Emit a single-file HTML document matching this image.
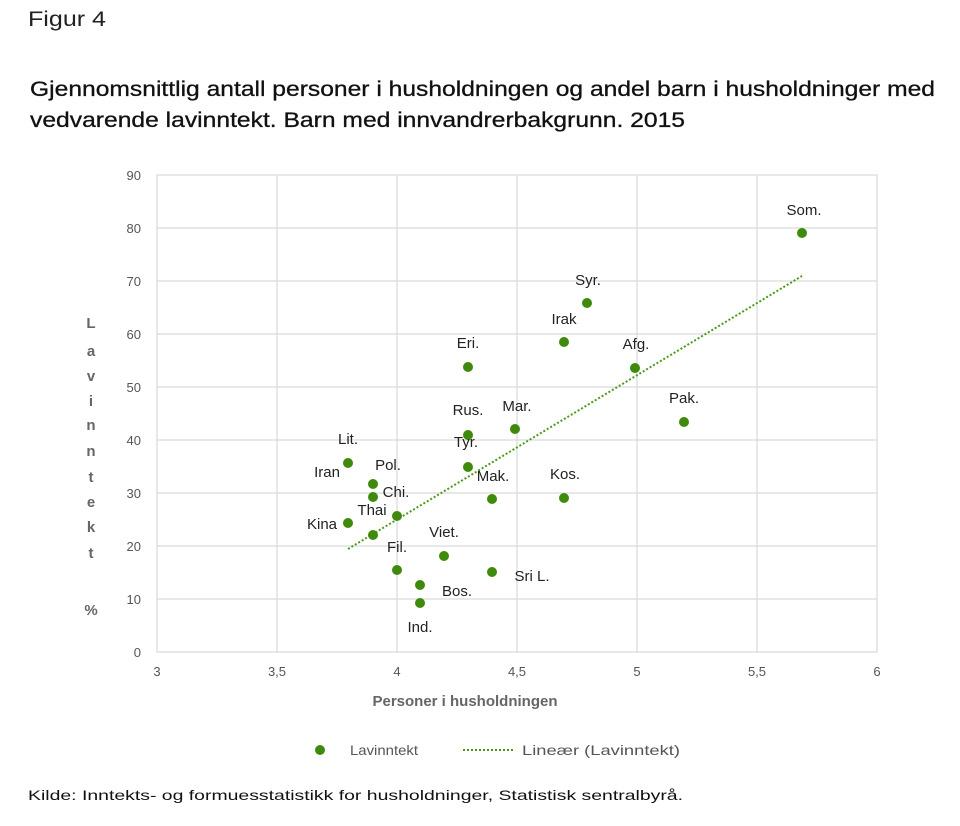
<!DOCTYPE html>
<html><head><meta charset="utf-8"><style>
html,body{margin:0;padding:0;background:#fff;}
svg{display:block;font-family:"Liberation Sans",sans-serif;}
</style></head><body>
<svg width="960" height="826" viewBox="0 0 960 826">
<text x="28" y="26" font-size="21" fill="#222" textLength="78" lengthAdjust="spacingAndGlyphs">Figur 4</text>
<text x="30" y="96" font-size="21" fill="#111" stroke="#111" stroke-width="0.3" textLength="905" lengthAdjust="spacingAndGlyphs">Gjennomsnittlig antall personer i husholdningen og andel barn i husholdninger med</text>
<text x="30" y="127" font-size="21" fill="#111" stroke="#111" stroke-width="0.3" textLength="655" lengthAdjust="spacingAndGlyphs">vedvarende lavinntekt. Barn med innvandrerbakgrunn. 2015</text>
<g stroke="#d9d9d9" stroke-width="1.2" fill="none">
<rect x="157" y="175" width="720" height="477"/>
<line x1="277" y1="175" x2="277" y2="652"/><line x1="397" y1="175" x2="397" y2="652"/><line x1="517" y1="175" x2="517" y2="652"/><line x1="637" y1="175" x2="637" y2="652"/><line x1="757" y1="175" x2="757" y2="652"/>
<line x1="157" y1="228" x2="877" y2="228"/><line x1="157" y1="281" x2="877" y2="281"/><line x1="157" y1="334" x2="877" y2="334"/><line x1="157" y1="387" x2="877" y2="387"/><line x1="157" y1="440" x2="877" y2="440"/><line x1="157" y1="493" x2="877" y2="493"/><line x1="157" y1="546" x2="877" y2="546"/><line x1="157" y1="599" x2="877" y2="599"/>
</g>
<g font-size="13" fill="#555" text-anchor="end">
<text x="141" y="180">90</text><text x="141" y="233">80</text><text x="141" y="286">70</text><text x="141" y="339">60</text><text x="141" y="392">50</text><text x="141" y="445">40</text><text x="141" y="498">30</text><text x="141" y="551">20</text><text x="141" y="604">10</text><text x="141" y="657">0</text>
</g>
<g font-size="13" fill="#555" text-anchor="middle">
<text x="157" y="676">3</text><text x="277" y="676">3,5</text><text x="397" y="676">4</text><text x="517" y="676">4,5</text><text x="637" y="676">5</text><text x="757" y="676">5,5</text><text x="877" y="676">6</text>
<text x="465" y="706" font-size="15" font-weight="bold" fill="#666">Personer i husholdningen</text>
<g font-size="15" font-weight="bold" fill="#666">
<text x="91" y="328">L</text><text x="91" y="356">a</text><text x="91" y="381">v</text><text x="91" y="406">i</text><text x="91" y="430">n</text><text x="91" y="456">n</text><text x="91" y="482">t</text><text x="91" y="507">e</text><text x="91" y="532">k</text><text x="91" y="558">t</text><text x="91" y="615">%</text>
</g>
</g>
<line x1="348" y1="549" x2="802" y2="276" stroke="#4a9a1a" stroke-width="2" stroke-dasharray="2,2"/>
<g fill="#3f8a0c">
<circle cx="802" cy="233" r="5"/><circle cx="587" cy="303" r="5"/><circle cx="564" cy="342" r="5"/><circle cx="635" cy="368" r="5"/><circle cx="468" cy="367" r="5"/><circle cx="684" cy="422" r="5"/><circle cx="515" cy="429" r="5"/><circle cx="468" cy="435" r="5"/><circle cx="468" cy="467" r="5"/><circle cx="348" cy="463" r="5"/><circle cx="373" cy="484" r="5"/><circle cx="373" cy="497" r="5"/><circle cx="492" cy="499" r="5"/><circle cx="564" cy="498" r="5"/><circle cx="397" cy="516" r="5"/><circle cx="348" cy="523" r="5"/><circle cx="373" cy="535" r="5"/><circle cx="444" cy="556" r="5"/><circle cx="492" cy="572" r="5"/><circle cx="397" cy="570" r="5"/><circle cx="420" cy="585" r="5"/><circle cx="420" cy="603" r="5"/>
</g>
<g font-size="15" fill="#222" text-anchor="middle">
<text x="804" y="215">Som.</text><text x="588" y="285">Syr.</text><text x="564" y="324">Irak</text><text x="636" y="349">Afg.</text><text x="468" y="348">Eri.</text><text x="684" y="403">Pak.</text><text x="517" y="411">Mar.</text><text x="468" y="415">Rus.</text><text x="466" y="447">Tyr.</text><text x="348" y="444">Lit.</text><text x="388" y="470">Pol.</text><text x="396" y="497">Chi.</text><text x="493" y="481">Mak.</text><text x="565" y="479">Kos.</text><text x="372" y="515">Thai</text><text x="327" y="477">Iran</text><text x="322" y="529">Kina</text><text x="397" y="552">Fil.</text><text x="444" y="537">Viet.</text><text x="532" y="581">Sri L.</text><text x="457" y="596">Bos.</text><text x="420" y="632">Ind.</text>
</g>
<circle cx="320" cy="750" r="5" fill="#3f8a0c"/>
<text x="350" y="755" font-size="14" fill="#555" textLength="68" lengthAdjust="spacingAndGlyphs">Lavinntekt</text>
<line x1="463" y1="750" x2="515" y2="750" stroke="#4a9a1a" stroke-width="2" stroke-dasharray="2,2"/>
<text x="522" y="755" font-size="14" fill="#555" textLength="158" lengthAdjust="spacingAndGlyphs">Lineær (Lavinntekt)</text>
<text x="28" y="800" font-size="14" fill="#111" textLength="655" lengthAdjust="spacingAndGlyphs">Kilde: Inntekts- og formuesstatistikk for husholdninger,  Statistisk sentralbyrå.</text>
</svg>
</body></html>
